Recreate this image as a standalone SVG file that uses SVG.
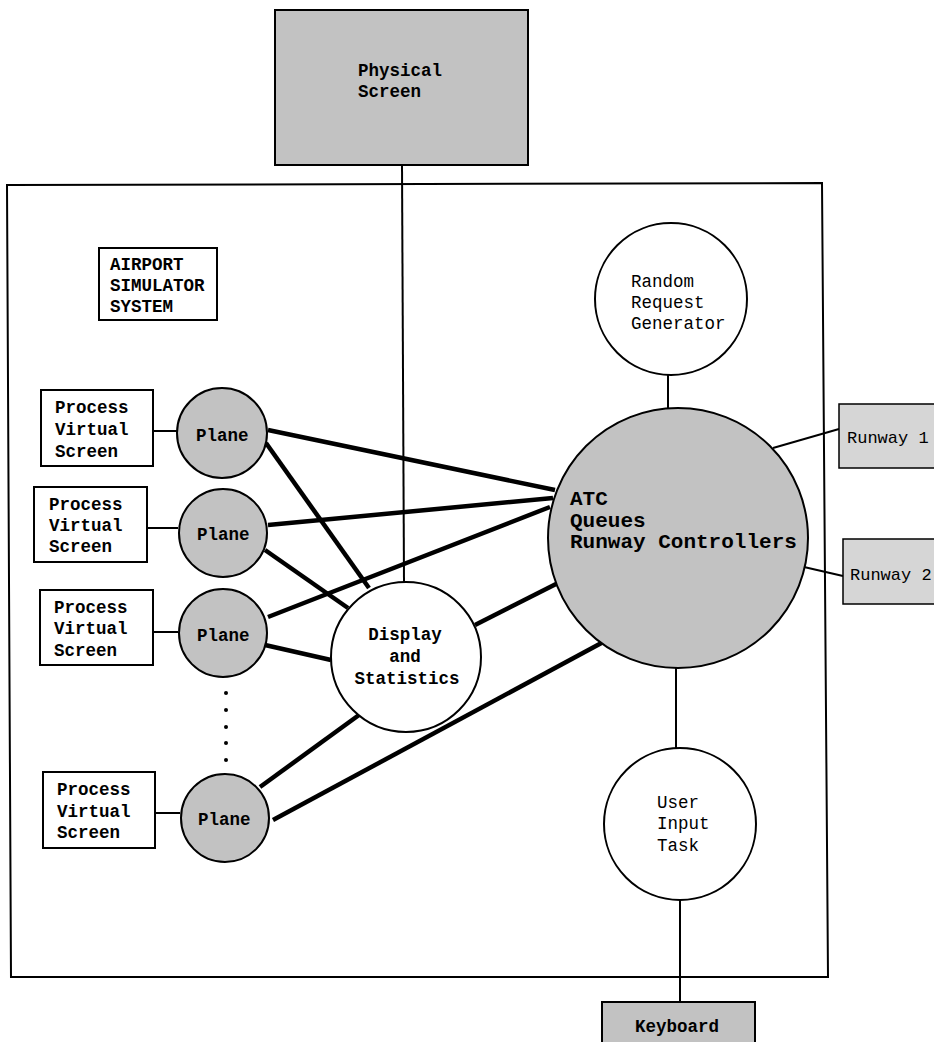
<svg xmlns="http://www.w3.org/2000/svg" width="934" height="1042" viewBox="0 0 934 1042">
<style>
.b{fill:#fff;stroke:#000;stroke-width:2}
.g{fill:#c2c2c2;stroke:#000;stroke-width:2}
.gl{fill:#d6d6d6;stroke:#000;stroke-width:1.5}
.t{font-family:"Liberation Mono","Courier New",monospace;font-size:17.5px;fill:#000}
.bd{font-weight:bold}
.thin{stroke:#000;stroke-width:2;fill:none}
.thick{stroke:#000;stroke-width:4.5;fill:none}
</style>
<rect width="934" height="1042" fill="#fff"/>
<g id="system">
<polygon points="7,185 822,183 828,977 11,977" fill="none" stroke="#000" stroke-width="2"/>
</g>
<g id="connectors">
<line class="thin" x1="402" y1="165" x2="404" y2="582"/>
<line class="thin" x1="668" y1="375" x2="668" y2="408"/>
<line class="thin" x1="676" y1="668" x2="676" y2="748"/>
<line class="thin" x1="680" y1="900" x2="680" y2="1002"/>
<line class="thin" x1="773" y1="448" x2="839" y2="429"/>
<line class="thin" x1="804" y1="567" x2="843" y2="576"/>
<line class="thin" x1="153" y1="431" x2="177" y2="431"/>
<line class="thin" x1="147" y1="528" x2="178" y2="528"/>
<line class="thin" x1="153" y1="632" x2="178" y2="632"/>
<line class="thin" x1="155" y1="813" x2="180" y2="813"/>
<line class="thick" x1="268" y1="430" x2="555" y2="490"/>
<line class="thick" x1="266" y1="443" x2="369" y2="588"/>
<line class="thick" x1="268" y1="525" x2="553" y2="498"/>
<line class="thick" x1="265" y1="550" x2="348" y2="608"/>
<line class="thick" x1="268" y1="617" x2="550" y2="507"/>
<line class="thick" x1="265" y1="645" x2="331" y2="660"/>
<line class="thick" x1="475" y1="625" x2="558" y2="583"/>
<line class="thick" x1="359" y1="715" x2="260" y2="787"/>
<line class="thick" x1="273" y1="820" x2="607" y2="640"/>
</g>
<g id="physical-screen">
<rect class="g" x="275" y="10" width="253" height="155" fill="#bdbdbd"/>
<text class="t bd" x="358" y="76">Physical</text>
<text class="t bd" x="358" y="97">Screen</text>
</g>
<g id="airport-label">
<rect class="b" x="99" y="248" width="118" height="72"/>
<text class="t bd" x="110" y="270">AIRPORT</text>
<text class="t bd" x="110" y="291">SIMULATOR</text>
<text class="t bd" x="110" y="312">SYSTEM</text>
</g>
<g id="pvs1">
<rect class="b" x="41" y="390" width="112" height="76"/>
<text class="t bd" x="55" y="413">Process</text>
<text class="t bd" x="55" y="435">Virtual</text>
<text class="t bd" x="55" y="457">Screen</text>
</g>
<g id="pvs2">
<rect class="b" x="34" y="487" width="113" height="75"/>
<text class="t bd" x="49" y="510">Process</text>
<text class="t bd" x="49" y="531">Virtual</text>
<text class="t bd" x="49" y="552">Screen</text>
</g>
<g id="pvs3">
<rect class="b" x="40" y="590" width="113" height="75"/>
<text class="t bd" x="54" y="613">Process</text>
<text class="t bd" x="54" y="634">Virtual</text>
<text class="t bd" x="54" y="656">Screen</text>
</g>
<g id="pvs4">
<rect class="b" x="43" y="772" width="112" height="76"/>
<text class="t bd" x="57" y="795">Process</text>
<text class="t bd" x="57" y="817">Virtual</text>
<text class="t bd" x="57" y="838">Screen</text>
</g>
<g id="plane1">
<circle class="g" cx="222" cy="433" r="45"/>
<text class="t bd" x="196" y="441">Plane</text>
</g>
<g id="plane2">
<circle class="g" cx="223" cy="533" r="44"/>
<text class="t bd" x="197" y="540">Plane</text>
</g>
<g id="plane3">
<circle class="g" cx="223" cy="633" r="44"/>
<text class="t bd" x="197" y="641">Plane</text>
</g>
<g id="ellipsis">
<circle cx="226" cy="693" r="2" fill="#000"/>
<circle cx="226" cy="710" r="2" fill="#000"/>
<circle cx="226" cy="727" r="2" fill="#000"/>
<circle cx="226" cy="743" r="2" fill="#000"/>
<circle cx="226" cy="760" r="2" fill="#000"/>
</g>
<g id="plane4">
<circle class="g" cx="225" cy="818" r="44"/>
<text class="t bd" x="198" y="825">Plane</text>
</g>
<g id="display">
<circle class="b" cx="406" cy="657" r="75"/>
<text class="t bd" x="405" y="640" text-anchor="middle">Display</text>
<text class="t bd" x="405" y="662" text-anchor="middle">and</text>
<text class="t bd" x="407" y="684" text-anchor="middle">Statistics</text>
</g>
<g id="rrg">
<circle class="b" cx="671" cy="299" r="76"/>
<text class="t" x="631" y="287">Random</text>
<text class="t" x="631" y="308">Request</text>
<text class="t" x="631" y="329">Generator</text>
</g>
<g id="atc">
<circle class="g" cx="678" cy="538" r="130" fill="#c6c6c6"/>
<text class="t bd" x="570" y="505" style="font-size:21px">ATC</text>
<text class="t bd" x="570" y="527" style="font-size:21px">Queues</text>
<text class="t bd" x="570" y="548" style="font-size:21px">Runway Controllers</text>
</g>
<g id="runway1">
<rect class="gl" x="839" y="404" width="100" height="64"/>
<text class="t" x="847" y="443" style="font-size:17px">Runway 1</text>
</g>
<g id="runway2">
<rect class="gl" x="843" y="539" width="100" height="65"/>
<text class="t" x="850" y="580" style="font-size:17px">Runway 2</text>
</g>
<g id="user-input">
<circle class="b" cx="680" cy="824" r="76"/>
<text class="t" x="657" y="808">User</text>
<text class="t" x="657" y="829">Input</text>
<text class="t" x="657" y="851">Task</text>
</g>
<g id="keyboard">
<rect class="g" x="602" y="1002" width="153" height="50"/>
<text class="t bd" x="635" y="1032">Keyboard</text>
</g>
</svg>
